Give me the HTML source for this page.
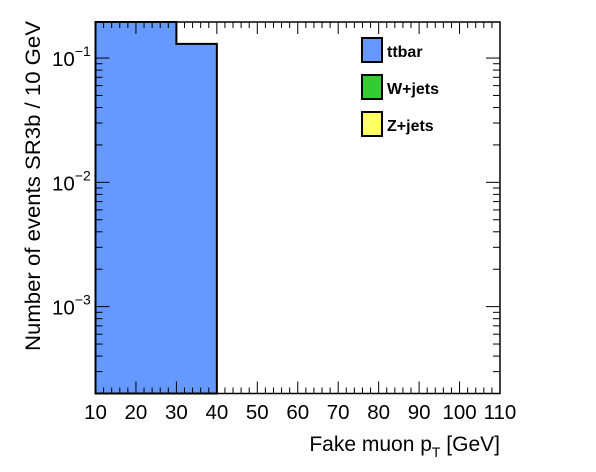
<!DOCTYPE html>
<html><head><meta charset="utf-8"><style>
html,body{margin:0;padding:0;background:#fff;}
svg{display:block;font-family:"Liberation Sans",Arial,sans-serif;}
</style></head><body>
<svg id="chart" width="596" height="472" xmlns="http://www.w3.org/2000/svg">
<rect width="596" height="472" fill="#fff"/>
<g id="bars"></g>
<g id="axes"></g>
<text transform="translate(40,351) rotate(-90)" font-size="21.5" fill="#000" textLength="330" lengthAdjust="spacingAndGlyphs">Number of events SR3b / 10 GeV</text>
<text x="500" y="451" font-size="21" text-anchor="end">Fake muon p<tspan font-size="14" dy="6">T</tspan><tspan dy="-6"> [GeV]</tspan></text>
<g font-size="16" font-weight="bold">
<g><rect x="362" y="38" width="20" height="24" fill="#6699ff" stroke="#000" stroke-width="2"/><text x="387" y="57">ttbar</text></g>
<g><rect x="362" y="75" width="20" height="24" fill="#33cc33" stroke="#000" stroke-width="2"/><text x="387" y="94">W+jets</text></g>
<g><rect x="362" y="112" width="20" height="24" fill="#ffff66" stroke="#000" stroke-width="2"/><text x="387" y="131">Z+jets</text></g>
</g>
</svg>
<script>
const binEdges=[10,30,40];
const ttbarValues=[0.25,0.13];
const xTicks=[10,20,30,40,50,60,70,80,90,100,110];
const yDecades=[-3,-2,-1];
const yTickLabels=["10^-3","10^-2","10^-1"];

const L=95.5,R=500,T=22,B=393.5;
const xmin=10,xmax=110,lmin=Math.log10(2.0e-4),lmax=Math.log10(0.195);
const X=v=>L+(v-xmin)/(xmax-xmin)*(R-L);
const Y=v=>{let y=B-(Math.log10(v)-lmin)/(lmax-lmin)*(B-T);return Math.max(T,Math.min(B,y));};
const NS="http://www.w3.org/2000/svg";
function mk(p,tag,a){const e=document.createElementNS(NS,tag);for(const k in a)e.setAttribute(k,a[k]);p.appendChild(e);return e;}
const bars=document.getElementById('bars'),axes=document.getElementById('axes');
let d="M"+X(binEdges[0])+","+B;
for(let i=0;i<ttbarValues.length;i++){
  d+=" L"+X(binEdges[i])+","+Y(ttbarValues[i])+" L"+X(binEdges[i+1])+","+Y(ttbarValues[i]);
}
d+=" L"+X(binEdges[binEdges.length-1])+","+B+" Z";
const fillp=mk(bars,'path',{d:d,fill:'#6699ff',stroke:'none'});


const ol=mk(bars,'path',{d:d,fill:'none',stroke:'#000','stroke-width':2});


const fr=mk(axes,'rect',{x:L,y:T,width:R-L,height:B-T,fill:'none',stroke:'#000','stroke-width':1.5});


for(let v=xmin;v<=xmax+0.01;v+=2){
  const major=(v%10===0),len=major?12:6,x=X(v);
  mk(axes,'line',{x1:x,y1:B,x2:x,y2:B-len,stroke:'#000','stroke-width':1});
  mk(axes,'line',{x1:x,y1:T,x2:x,y2:T+len,stroke:'#000','stroke-width':1});
}
xTicks.forEach(v=>{
  const t=mk(axes,'text',{x:X(v),y:419,'font-size':20.5,'text-anchor':'middle'});
  t.textContent=v;
  
  
});
for(let e=-4;e<=0;e++){
  for(let m=1;m<10;m++){
    const v=m*Math.pow(10,e);
    if(Math.log10(v)<lmin||Math.log10(v)>lmax)continue;
    const y=Y(v),len=m===1?14:7;
    mk(axes,'line',{x1:L,y1:y,x2:L+len,y2:y,stroke:'#000','stroke-width':1});
    mk(axes,'line',{x1:R,y1:y,x2:R-len,y2:y,stroke:'#000','stroke-width':1});
  }
}
yDecades.forEach((e,i)=>{
  const t=mk(axes,'text',{x:52,y:Y(Math.pow(10,e))+8,'font-size':20.5});
  
  
  t.appendChild(document.createTextNode('10'));
  const s=document.createElementNS(NS,'tspan');
  s.setAttribute('font-size','14');s.setAttribute('dy','-10');
  s.textContent=yTickLabels[i].split('^')[1].replace('-','\u2212');
  t.appendChild(s);
});
</script>
</body></html>
